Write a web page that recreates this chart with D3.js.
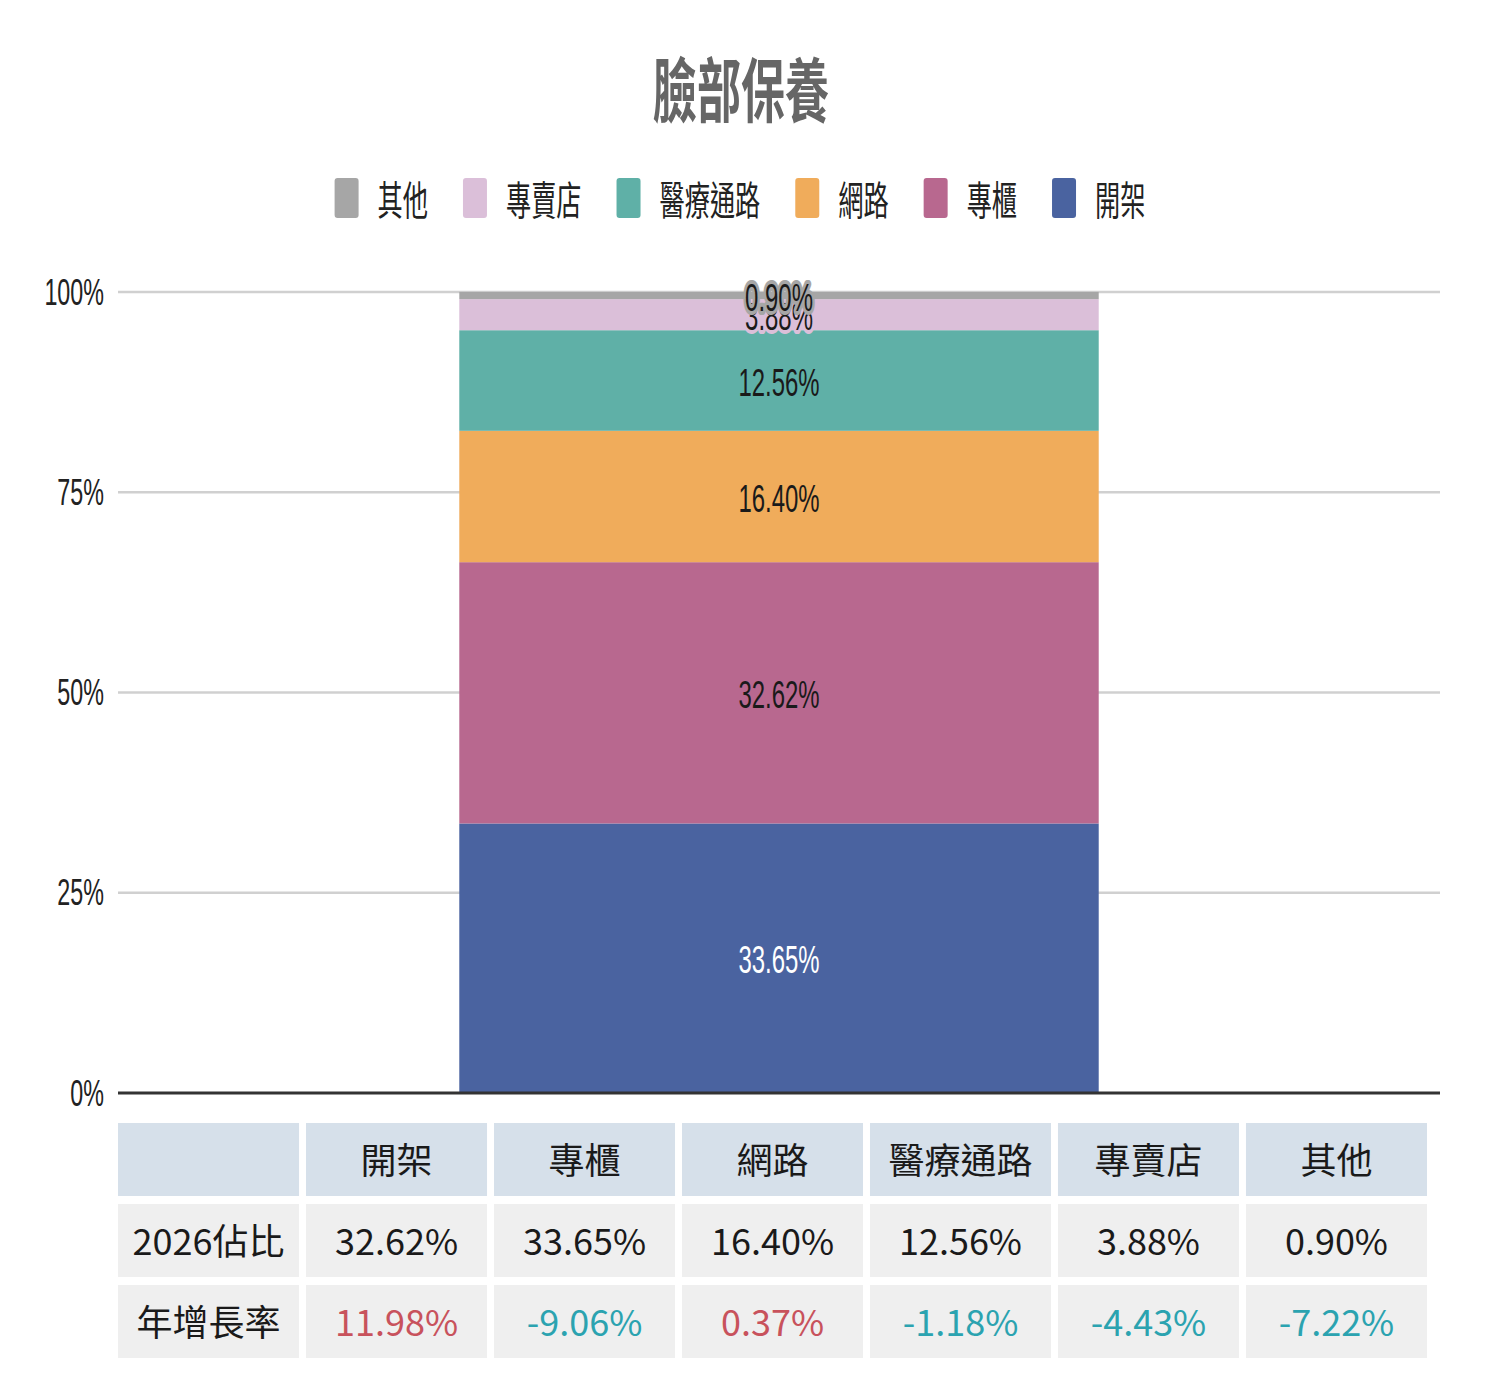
<!DOCTYPE html>
<html lang="zh-Hant">
<head>
<meta charset="UTF-8">
<title>臉部保養</title>
<script src="https://d3js.org/d3.v7.min.js"></script>
<style>
  body { margin: 0; background: #fff; }
  svg { display: block; }
</style>
</head>
<body>
<div id="chart"></div>
<script>
// channels, bottom of stack first
const categories = ["開架", "專櫃", "網路", "醫療通路", "專賣店", "其他"];
const barShare = [33.65, 32.62, 16.40, 12.56, 3.88, 0.90];   // values as stacked in the bar
const tableShare = [32.62, 33.65, 16.40, 12.56, 3.88, 0.90]; // 2026佔比 row as printed
const growth = [11.98, -9.06, 0.37, -1.18, -4.43, -7.22];    // 年增長率
const yTicks = [0, 25, 50, 75, 100];
const colors = ["#4a63a0", "#b8688f", "#f0ac5b", "#5fb0a7", "#dbbfd9", "#a6a6a6"];

const W = 1500, H = 1384;
const SX = 0.63; // chart text is drawn horizontally condensed
const plotLeft = 118, plotRight = 1440, plotTop = 292, plotBottom = 1093;

const svg = d3.select("#chart").append("svg")
  .attr("width", W).attr("height", H);

// condensed text helper
function squeezed(g, x, y) {
  return g.append("g").attr("transform", `translate(${x},${y}) scale(${SX},1)`).append("text");
}

// title
squeezed(svg, 741, 86)
  .attr("text-anchor", "middle").attr("dominant-baseline", "central")
  .style("font-family", "'Noto Sans CJK TC', sans-serif")
  .style("font-weight", 700).style("font-size", "70px").attr("fill", "#666")
  .text("臉部保養");

// legend (reverse order, top of stack first)
const legendItems = categories.map((c, i) => ({ name: c, color: colors[i] })).reverse();
const legend = svg.append("g");
let lx = 0;
legendItems.forEach(d => {
  legend.append("rect").attr("x", lx).attr("y", -20).attr("width", 24).attr("height", 40)
    .attr("rx", 3).attr("fill", d.color);
  const t = squeezed(legend, lx + 43, 0)
    .attr("dominant-baseline", "central")
    .style("font-family", "'Noto Sans CJK TC', sans-serif")
    .style("font-size", "40px").attr("fill", "#222")
    .text(d.name);
  lx += 43 + t.node().getComputedTextLength() * SX + 35;
});
lx -= 35;
legend.attr("transform", `translate(${740 - lx / 2},198)`);

// scales
const x = d3.scaleBand().domain(["臉部保養"]).range([plotLeft, plotRight]).padding(0.348);
const y = d3.scaleLinear().domain([0, 100]).range([plotBottom, plotTop]);

// gridlines and tick labels
const grid = svg.append("g");
yTicks.forEach(t => {
  if (t > 0) {
    grid.append("line").attr("x1", plotLeft).attr("x2", plotRight)
      .attr("y1", y(t)).attr("y2", y(t))
      .attr("stroke", "#d0d0d0").attr("stroke-width", 2.5);
  }
  squeezed(grid, 104, y(t))
    .attr("text-anchor", "end").attr("dominant-baseline", "central")
    .style("font-family", "'Liberation Sans', Arial, sans-serif")
    .style("font-size", "37px").attr("fill", "#222")
    .text(t + "%");
});

// stacked bar
const row = {}; categories.forEach((c, i) => row[c] = barShare[i]);
const series = d3.stack().keys(categories)([row]);

const bars = svg.append("g");
series.forEach((s, i) => {
  const d = s[0];
  bars.append("rect")
    .attr("x", x("臉部保養")).attr("width", x.bandwidth())
    .attr("y", y(d[1])).attr("height", y(d[0]) - y(d[1]))
    .attr("fill", colors[i]);
});

// baseline
svg.append("line").attr("x1", plotLeft).attr("x2", plotRight)
  .attr("y1", plotBottom).attr("y2", plotBottom)
  .attr("stroke", "#333").attr("stroke-width", 3);

// segment labels (the two thin top segments overlap, as in the source chart)
const labels = svg.append("g");
series.forEach((s, i) => {
  const d = s[0];
  const cy = (y(d[0]) + y(d[1])) / 2;
  squeezed(labels, x("臉部保養") + x.bandwidth() / 2, cy + 2)
    .attr("text-anchor", "middle").attr("dominant-baseline", "central")
    .style("font-family", "'Liberation Sans', Arial, sans-serif")
    .style("font-size", "38px")
    .attr("fill", i === 0 ? "#fff" : "#1a1a1a")
    .attr("stroke", colors[i]).attr("stroke-width", 8)
    .attr("paint-order", "stroke").attr("stroke-linejoin", "round")
    .text(barShare[i].toFixed(2) + "%");
});

// table
const cols = [""].concat(categories);
const cx = d3.scaleBand().domain(d3.range(cols.length)).range([plotLeft, 1427]).paddingInner(0.037);
const rowsY = [1123, 1204, 1285], rowH = 73;
const tableRows = [
  { bg: "#d6e0ea", cells: cols.map(c => ({ text: c, color: "#1a1a1a" })) },
  { bg: "#efefef", cells: [{ text: "2026佔比", color: "#1a1a1a" }]
      .concat(tableShare.map(v => ({ text: v.toFixed(2) + "%", color: "#1a1a1a" }))) },
  { bg: "#efefef", cells: [{ text: "年增長率", color: "#1a1a1a" }]
      .concat(growth.map(v => ({ text: v.toFixed(2) + "%", color: v >= 0 ? "#c8525c" : "#2ba3b0" }))) }
];
const table = svg.append("g");
tableRows.forEach((r, ri) => {
  r.cells.forEach((c, ci) => {
    table.append("rect").attr("x", cx(ci)).attr("y", rowsY[ri])
      .attr("width", cx.bandwidth()).attr("height", rowH).attr("fill", r.bg);
    table.append("text")
      .attr("x", cx(ci) + cx.bandwidth() / 2).attr("y", rowsY[ri] + rowH / 2 - 2)
      .attr("text-anchor", "middle").attr("dominant-baseline", "central")
      .style("font-family", "'Noto Sans CJK TC', 'Noto Sans', sans-serif")
      .style("font-size", "36px").attr("fill", c.color)
      .text(c.text);
  });
});
</script>
</body>
</html>
